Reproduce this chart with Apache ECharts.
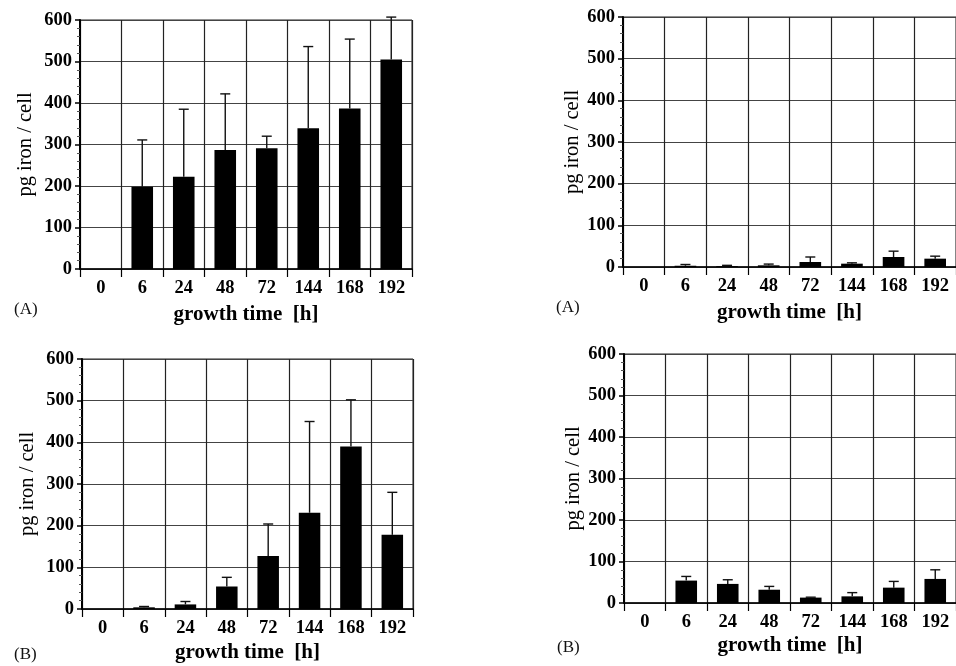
<!DOCTYPE html>
<html>
<head>
<meta charset="utf-8">
<script src="https://cdn.jsdelivr.net/npm/echarts@6/dist/echarts.min.js"></script>
<style>html,body{margin:0;padding:0;background:#fff}#c{width:956px;height:666px}</style>
</head>
<body>
<div id="c"></div>
<script>
const categories = ['0', '6', '24', '48', '72', '144', '168', '192'];
const yTicks = [0, 100, 200, 300, 400, 500, 600];

// Top-left (A)
const meanTL = [null, 198, 222, 287, 291, 339, 387, 505];
const sdTL   = [null, 113, 163, 135, 29, 197, 167, 102];
// Bottom-left (B)
const meanBL = [null, 4, 11, 54, 127, 231, 390, 178];
const sdBL   = [null, 2, 7, 22, 77, 219, 112, 102];
// Top-right (A)
const meanTR = [null, 3, 2, 4, 12, 8, 24, 20];
const sdTR   = [null, 3, 2, 3, 12, 2, 14, 6];
// Bottom-right (B)
const meanBR = [null, 54, 46, 32, 13, 16, 37, 58];
const sdBR   = [null, 10, 10, 8, 1, 9, 15, 22];

const panelLabels = ['(A)', '(B)', '(A)', '(B)'];
const xName = 'growth time  [h]';
const yName = 'pg iron / cell';

const FONT = 'Liberation Serif';
const grids = [
  {left: 80, top: 20, width: 332, height: 249},
  {left: 82, top: 359, width: 331, height: 250},
  {left: 623, top: 17, width: 340, height: 250},
  {left: 624, top: 354, width: 340, height: 249}
];
const yNameGaps = [44, 44, 40, 40];
const xNameGaps = [35, 33, 35, 32];
const panels = [[meanTL, sdTL], [meanBL, sdBL], [meanTR, sdTR], [meanBR, sdBR]];

const option = {
  animation: false,
  grid: grids.map(g => Object.assign({show: true, borderColor: '#222', borderWidth: 1, backgroundColor: 'transparent'}, g)),
  xAxis: grids.map((g, i) => ({
    type: 'category', gridIndex: i, data: categories, boundaryGap: true,
    name: xName, nameLocation: 'middle', nameGap: xNameGaps[i],
    nameTextStyle: {fontFamily: FONT, fontWeight: 'bold', fontSize: 21, color: '#000'},
    axisLine: {lineStyle: {color: '#000', width: 1.5}},
    axisTick: {show: true, interval: 0, length: 8, lineStyle: {color: '#000', width: 1.2}},
    axisLabel: {interval: 0, margin: 10, fontFamily: FONT, fontWeight: 'bold', fontSize: 18.5, color: '#000'},
    splitLine: {show: true, interval: 0, lineStyle: {color: '#222', width: 1.2}}
  })),
  yAxis: grids.map((g, i) => ({
    type: 'value', gridIndex: i, min: 0, max: yTicks[yTicks.length - 1], interval: 100,
    name: yName, nameLocation: 'middle', nameGap: yNameGaps[i],
    nameTextStyle: {fontFamily: FONT, fontSize: 20.5, color: '#000'},
    axisLine: {show: true, lineStyle: {color: '#000', width: 2}},
    axisTick: {show: true, length: 5, lineStyle: {color: '#000', width: 1.5}},
    minorTick: {show: true, splitNumber: 5, length: 3, lineStyle: {color: '#555', width: 1}},
    axisLabel: {margin: 8, fontFamily: FONT, fontWeight: 'bold', fontSize: 18.5, color: '#000'},
    splitLine: {show: true, lineStyle: {color: '#444', width: 1.2}}
  })),
  series: [],
  graphic: []
};

panels.forEach((p, i) => {
  const mean = p[0], sd = p[1];
  option.series.push({
    type: 'bar', xAxisIndex: i, yAxisIndex: i, data: mean, barWidth: '52%',
    itemStyle: {color: '#000'}, z: 3
  });
  option.series.push({
    type: 'custom', xAxisIndex: i, yAxisIndex: i, z: 4, clip: false,
    data: mean.map((m, k) => m == null ? [k, null, null] : [k, m, m + sd[k]]),
    encode: {x: 0, y: [1, 2]},
    renderItem: function (params, api) {
      if (api.value(1) == null || isNaN(api.value(1))) return;
      const lo = api.coord([api.value(0), api.value(1)]);
      const hi = api.coord([api.value(0), api.value(2)]);
      const st = {stroke: '#111', lineWidth: 1.4};
      return {type: 'group', children: [
        {type: 'line', shape: {x1: lo[0], y1: lo[1], x2: hi[0], y2: hi[1]}, style: st},
        {type: 'line', shape: {x1: hi[0] - 5, y1: hi[1], x2: hi[0] + 5, y2: hi[1]}, style: st}
      ]};
    }
  });
});

const labelPos = [[14, 301], [14, 646], [556, 299], [557, 639]];
panelLabels.forEach((t, i) => {
  option.graphic.push({type: 'text', left: labelPos[i][0], top: labelPos[i][1],
    style: {text: t, fontFamily: FONT, fontSize: 17, fill: '#111'}});
});

const chart = echarts.init(document.getElementById('c'), null, {renderer: 'canvas'});
chart.setOption(option);
</script>
</body>
</html>
